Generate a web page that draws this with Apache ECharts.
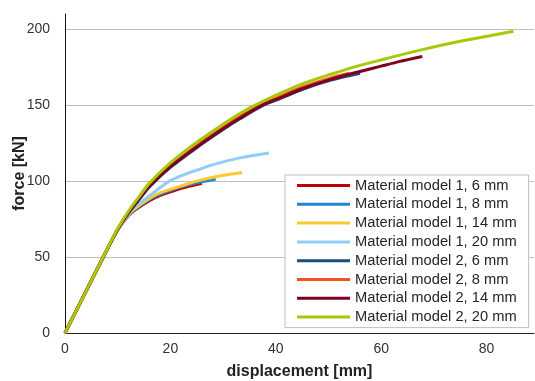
<!DOCTYPE html>
<html>
<head>
<meta charset="utf-8">
<script src="https://cdn.jsdelivr.net/npm/echarts@6/dist/echarts.min.js"></script>
<style>
  html, body { margin: 0; padding: 0; background: #fff; }
  #chart { width: 535px; height: 381px; }
</style>
</head>
<body>
<div id="chart"></div>
<script>
// [displacement mm, force kN]
const m1_6mm = [[0, 0], [5, 34.5], [8.5, 58.5], [10, 67.8], [11.5, 75], [13, 80.2], [16.1, 87.3], [18, 90.5], [20.5, 93.5], [23, 96], [26, 98.5]];
const m1_8mm = [[0, 0], [5, 34.5], [8.5, 58.5], [10, 67.8], [11.5, 75.2], [13, 80.6], [16.1, 88], [18, 91.2], [20.5, 94.5], [23, 97.2], [26, 99.6], [28.6, 101.2]];
const m1_14mm = [[0, 0], [5, 34.5], [8.5, 58.5], [10, 67.9], [11.5, 75.5], [13, 81.2], [16.1, 88.8], [18, 92.2], [21.8, 96.5], [25, 100], [28.8, 103], [33.6, 105.7]];
const m1_20mm = [[0, 0], [5, 34.5], [8.5, 58.5], [10, 68], [11.5, 76], [13, 82.2], [16.1, 90.5], [19.6, 99.5], [22.4, 104], [25, 107.2], [28.8, 111.5], [33.2, 115.3], [38.7, 118.5]];
const m2_6mm = [[0, 0], [5, 34.5], [8.5, 58.3], [10, 68.3], [12, 78.7], [14, 87.5], [16.1, 96.5], [20, 109], [25.6, 123.5], [30, 134], [33.2, 141], [37.4, 149.5], [40.8, 154.3], [45, 160.3], [50.3, 166.3], [56, 171]];
const m2_8mm = [[0, 0], [5, 34.5], [8.5, 58.4], [10, 68.5], [12, 79.3], [14, 88.5], [16.1, 97.8], [20, 110.5], [25.6, 125], [30, 135.5], [33.2, 142.5], [37, 150], [40.8, 155.8], [45, 161.8], [50.3, 167.8], [54, 171]];
const m2_14mm = [[0, 0], [5, 34.5], [8.5, 58.3], [10, 68.3], [12, 79], [14, 88], [16.1, 97], [20, 109.5], [25.6, 124], [30, 134.5], [33.2, 141.5], [37.4, 150], [40.8, 154.8], [45, 160.8], [50.3, 166.8], [55, 171.3], [59.8, 175.5], [63.6, 178.8], [67.8, 182]];
const m2_20mm = [[0, 0], [5, 34.5], [8.5, 58.6], [10, 68.8], [12, 80], [14, 89.5], [16.1, 99], [20, 112], [25.6, 127], [30, 137.5], [33.2, 144.5], [36.1, 150], [40.8, 157.7], [45, 164], [50.3, 170.2], [55, 175.2], [59.8, 179.6], [67.4, 186.2], [75, 192], [85.1, 198.7]];

const seriesNames = [
  "Material model 1, 6 mm", "Material model 1, 8 mm", "Material model 1, 14 mm", "Material model 1, 20 mm",
  "Material model 2, 6 mm", "Material model 2, 8 mm", "Material model 2, 14 mm", "Material model 2, 20 mm"
];
const seriesData = [m1_6mm, m1_8mm, m1_14mm, m1_20mm, m2_6mm, m2_8mm, m2_14mm, m2_20mm];
const colors = ["#c00000", "#1f88d2", "#ffc930", "#91cdf9", "#1f4e79", "#f4511e", "#800020", "#a8c80a"];

const xTicks = { min: 0, max: 89, interval: 20 };
const yTicks = { min: 0, max: 210, interval: 50 };

const chart = echarts.init(document.getElementById("chart"));
chart.setOption({
  animation: false,
  color: colors,
  textStyle: { fontFamily: "Liberation Sans" },
  grid: { left: 65, right: 1, top: 14, bottom: 48, containLabel: false, outerBoundsMode: "none" },
  legend: {
    orient: "vertical",
    left: 285,
    top: 175,
    padding: [3, 12, 3, 12],
    itemWidth: 53,
    itemHeight: 3,
    itemGap: 3.8,
    icon: "rect",
    backgroundColor: "#fff",
    borderColor: "#bfbfbf",
    borderWidth: 1,
    borderRadius: 0,
    data: seriesNames,
    textStyle: { fontSize: 14.7, color: "#262626", lineHeight: 15, fontFamily: "Liberation Sans" },
  },
  xAxis: {
    type: "value",
    min: xTicks.min,
    max: xTicks.max,
    interval: xTicks.interval,
    name: "displacement [mm]",
    nameLocation: "middle",
    nameGap: 31,
    nameMoveOverlap: false,
    nameTextStyle: { fontSize: 16, fontWeight: "bold", color: "#222", fontFamily: "Liberation Sans" },
    axisLine: { show: true, lineStyle: { color: "#222", width: 1 } },
    axisTick: { show: false },
    splitLine: { show: false },
    axisLabel: { fontSize: 14, color: "#333", margin: 9, showMaxLabel: false },
  },
  yAxis: {
    type: "value",
    min: yTicks.min,
    max: yTicks.max,
    interval: yTicks.interval,
    name: "force [kN]",
    nameLocation: "middle",
    nameGap: 37,
    nameMoveOverlap: false,
    nameTextStyle: { fontSize: 16, fontWeight: "bold", color: "#222", fontFamily: "Liberation Sans" },
    axisLine: { show: true, lineStyle: { color: "#111", width: 1 } },
    axisTick: { show: false },
    splitLine: { show: true, showMaxLine: false, lineStyle: { color: "#c0c0c0", width: 1 } },
    axisLabel: { fontSize: 14, color: "#333", margin: 15, showMaxLabel: false },
  },
  series: seriesNames.map((name, i) => ({
    name: name,
    type: "line",
    data: seriesData[i],
    smooth: 0.3,
    symbol: "none",
    lineStyle: { width: 3, color: colors[i] },
    itemStyle: { color: colors[i] },
  })),
});
</script>
</body>
</html>
